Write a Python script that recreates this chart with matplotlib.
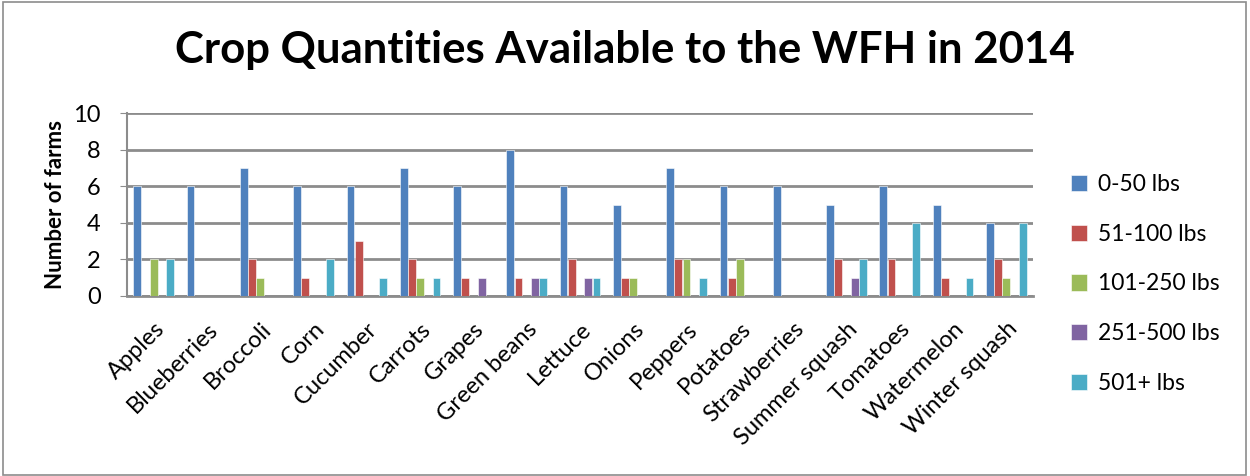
import matplotlib
matplotlib.use("Agg")
import matplotlib.pyplot as plt
from matplotlib.patches import Rectangle
import numpy as np

categories = ["Apples", "Blueberries", "Broccoli", "Corn", "Cucumber", "Carrots", "Grapes",
              "Green beans", "Lettuce", "Onions", "Peppers", "Potatoes", "Strawberries",
              "Summer squash", "Tomatoes", "Watermelon", "Winter squash"]
series_names = ["0-50 lbs", "51-100 lbs", "101-250 lbs", "251-500 lbs", "501+ lbs"]
s0_50 = [6, 6, 7, 6, 6, 7, 6, 8, 6, 5, 7, 6, 6, 5, 6, 5, 4]
s51_100 = [0, 0, 2, 1, 3, 2, 1, 1, 2, 1, 2, 1, 0, 2, 2, 1, 2]
s101_250 = [2, 0, 1, 0, 0, 1, 0, 0, 0, 1, 2, 2, 0, 0, 0, 0, 1]
s251_500 = [0, 0, 0, 0, 0, 0, 1, 1, 1, 0, 0, 0, 0, 1, 0, 0, 0]
s501 = [2, 0, 0, 2, 1, 1, 0, 1, 1, 0, 1, 0, 0, 2, 4, 1, 4]
series = [s0_50, s51_100, s101_250, s251_500, s501]
colors = ["#4F81BD", "#C0504D", "#9BBB59", "#8064A2", "#4BACC6"]
yticks = [0, 2, 4, 6, 8, 10]

plt.rcParams['font.family'] = ['Lato', 'DejaVu Sans']

fig = plt.figure(figsize=(12.5, 4.76), dpi=100)
fig.patches.append(Rectangle((0.002, 0.003), 0.995, 0.993, transform=fig.transFigure,
                             fill=False, edgecolor="#8c8c8c", linewidth=1.2))
ax = fig.add_axes([127/1250, 1 - 296/476, (1033-127)/1250, (296-113)/476])

n = len(categories)
x = np.arange(n)
w = 1 / 6.5
for k, (vals, col, name) in enumerate(zip(series, colors, series_names)):
    pos = x + 0.5 - 2.5 * w + (k + 0.5) * w
    ax.bar(pos, vals, width=w * 0.95, color=col, label=name, zorder=3,
           edgecolor="white", linewidth=0.4)

ax.set_xlim(0, n)
ax.set_ylim(0, 10)
ax.set_yticks(yticks)
ax.yaxis.grid(True, color="#8c8c8c", linewidth=2, zorder=0)
ax.set_axisbelow(True)
for s in ["top", "right"]:
    ax.spines[s].set_visible(False)
ax.spines["left"].set_color("#8c8c8c")
ax.spines["left"].set_linewidth(1.5)
ax.spines["bottom"].set_color("#8c8c8c")
ax.spines["bottom"].set_linewidth(2)
ax.tick_params(axis="y", labelsize=17, length=5, color="#8c8c8c", direction="out", pad=14)
ax.set_xticks(x + 0.5)
ax.set_xticklabels(categories, rotation=45, ha="right", rotation_mode="anchor", fontsize=17)
ax.tick_params(axis="x", length=0, pad=16)
ax.set_ylabel("Number of farms", fontsize=16, fontweight="bold", labelpad=5)

fig.text(0.5, 1 - 50/476, "Crop Quantities Available to the WFH in 2014", ha="center", va="center",
         fontsize=31.5, fontweight="bold")

leg = ax.legend(loc="center left", bbox_to_anchor=(1050/1250, 1 - 284/476),
                bbox_transform=fig.transFigure, frameon=False, fontsize=16.5,
                handlelength=0.7, handleheight=0.7, labelspacing=1.25, handletextpad=0.5)

fig.savefig("out.png", dpi=100)
